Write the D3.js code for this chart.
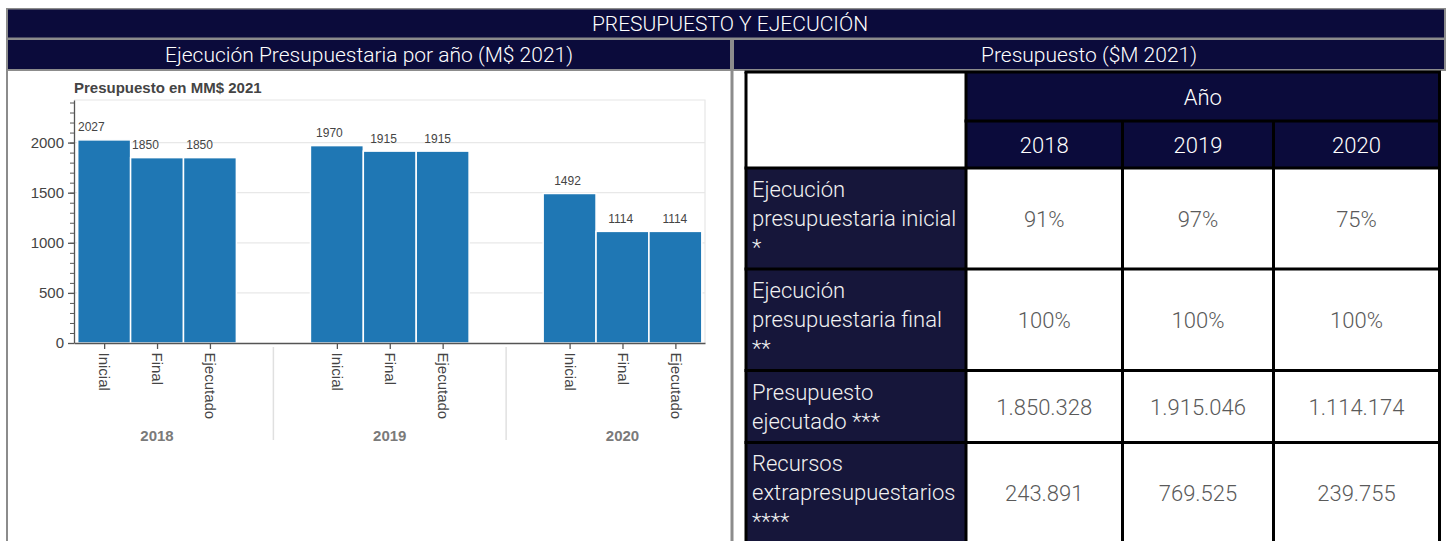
<!DOCTYPE html>
<html>
<head>
<meta charset="utf-8">
<script src="https://cdn.jsdelivr.net/npm/d3@7"></script>
<style>
  html, body { margin: 0; padding: 0; background: #fff; }
  svg { display: block; }
</style>
</head>
<body>
<svg id="board"></svg>
<script>
// chart data (MM$ 2021)
const years = ["2018", "2019", "2020"];
const stages = ["Inicial", "Final", "Ejecutado"];
const inicial = [2027, 1970, 1492];
const final = [1850, 1915, 1114];
const ejecutado = [1850, 1915, 1114];
const yTicks = [0, 500, 1000, 1500, 2000];

// table data
const rowLabels = [
  ["Ejecución", "presupuestaria inicial", "*"],
  ["Ejecución", "presupuestaria final", "**"],
  ["Presupuesto", "ejecutado ***"],
  ["Recursos", "extrapresupuestarios", "****"]
];
const ejecucionInicial = ["91%", "97%", "75%"];
const ejecucionFinal = ["100%", "100%", "100%"];
const presupuestoEjecutado = ["1.850.328", "1.915.046", "1.114.174"];
const recursosExtra = ["243.891", "769.525", "239.755"];

const W = 1446, H = 541;
const navy = "#0b0b3b", navyCell = "#16163a", frame = "#8c8c8c";
const panelFont = "Roboto, 'Noto Sans', sans-serif";
const chartFont = "'Liberation Sans', Arial, sans-serif";

const svg = d3.select("#board").attr("width", W).attr("height", H);

// ---- frame and header bands ----
svg.append("rect").attr("x", 6).attr("y", 8).attr("width", W - 6).attr("height", 31).attr("fill", frame);
svg.append("rect").attr("x", 8).attr("y", 9.5).attr("width", W - 10).attr("height", 28).attr("fill", navy);
svg.append("rect").attr("x", 6).attr("y", 38).attr("width", W - 6).attr("height", 33).attr("fill", frame);
svg.append("rect").attr("x", 8).attr("y", 40).attr("width", 722).attr("height", 29).attr("fill", navy);
svg.append("rect").attr("x", 734).attr("y", 40).attr("width", W - 736).attr("height", 29).attr("fill", navy);
svg.append("rect").attr("x", 6).attr("y", 69).attr("width", 2).attr("height", H - 69).attr("fill", frame);
svg.append("rect").attr("x", 730.5).attr("y", 69).attr("width", 3).attr("height", H - 69).attr("fill", frame);

const headerText = (x, y, t) => svg.append("text")
  .attr("x", x).attr("y", y).attr("text-anchor", "middle").attr("dominant-baseline", "central")
  .attr("fill", "#fff").style("font-family", panelFont).style("font-weight", 300)
  .style("font-size", "21px").text(t);
headerText(730, 23.5, "PRESUPUESTO Y EJECUCIÓN");
headerText(369, 54.5, "Ejecución Presupuestaria por año (M$ 2021)");
headerText(1089, 54.5, "Presupuesto ($M 2021)");

// ---- bar chart ----
const plot = { left: 74, right: 705, top: 100, bottom: 343 };
const groupStep = 4.4; // 3 bars + group padding, in bar units
const series = [inicial, final, ejecutado];
const bars = [];
years.forEach((yr, g) => stages.forEach((st, i) => {
  bars.push({ year: yr, stage: st, g, u: g * groupStep + i, value: series[i][g] });
}));

const x = d3.scaleLinear().domain([-0.07, 11.86]).range([plot.left, plot.right]);
const labelX = d3.scaleLinear().domain([0, 11.8]).range([78, 716.5]);
const y = d3.scaleLinear().domain([0, 2425]).range([plot.bottom, plot.top]);

const chart = svg.append("g");

chart.append("text").attr("x", 74).attr("y", 92.5)
  .style("font-family", chartFont).style("font-weight", "bold").style("font-size", "15px")
  .attr("fill", "#444").text("Presupuesto en MM$ 2021");

// grid + outline
chart.append("g").selectAll("line").data(yTicks.slice(1)).join("line")
  .attr("x1", plot.left).attr("x2", plot.right)
  .attr("y1", d => y(d)).attr("y2", d => y(d))
  .attr("stroke", "#e8e8e8").attr("stroke-width", 1.2);
chart.append("path")
  .attr("d", `M${plot.left},${plot.top}H${plot.right}V${plot.bottom}`)
  .attr("fill", "none").attr("stroke", "#e6e6e6").attr("stroke-width", 1.2);

chart.append("g").selectAll("rect").data(bars).join("rect")
  .attr("x", d => x(d.u)).attr("width", d => x(d.u + 1) - x(d.u))
  .attr("y", d => y(d.value)).attr("height", d => y(0) - y(d.value))
  .attr("fill", "#1f77b4").attr("stroke", "#fff").attr("stroke-width", 1.5);

chart.append("g").selectAll("text").data(bars).join("text")
  .attr("x", d => labelX(d.u)).attr("y", d => y(d.value) - 8.5)
  .style("font-family", chartFont).style("font-size", "12px").attr("fill", "#444")
  .text(d => d.value);

// y axis: minor then major
chart.append("g").attr("transform", `translate(${plot.left},0)`)
  .call(d3.axisLeft(y).tickValues(d3.range(0, 2401, 100)).tickSize(4).tickSizeOuter(0).tickFormat(""))
  .call(g => g.select(".domain").remove())
  .call(g => g.selectAll("line").attr("stroke", "#555"));
chart.append("g").attr("transform", `translate(${plot.left},0)`)
  .call(d3.axisLeft(y).tickValues(yTicks).tickSize(6).tickSizeOuter(0).tickPadding(4)
    .tickFormat(d3.format("d")))
  .call(g => g.select(".domain").attr("stroke", "#555").attr("stroke-width", 1.3))
  .call(g => g.selectAll("line").attr("stroke", "#555").attr("stroke-width", 1.3))
  .call(g => g.selectAll("text").attr("fill", "#444")
    .style("font-family", chartFont).style("font-size", "15px"));

// x axis with rotated stage labels
chart.append("g").attr("transform", `translate(0,${plot.bottom})`)
  .call(d3.axisBottom(x).tickValues(bars.map(d => d.u + 0.5)).tickSize(6).tickSizeOuter(0)
    .tickFormat((d, i) => bars[i].stage))
  .call(g => g.select(".domain").attr("stroke", "#555").attr("stroke-width", 1.5))
  .call(g => g.selectAll("line").attr("stroke", "#555").attr("stroke-width", 1.3))
  .call(g => g.selectAll("text")
    .attr("transform", "rotate(90)").attr("x", 9.5).attr("y", 0).attr("dy", "0.35em")
    .attr("text-anchor", "start").attr("fill", "#444")
    .style("font-family", chartFont).style("font-size", "15px"));

// year group labels and separators
chart.append("g").selectAll("line").data(years.slice(1)).join("line")
  .attr("x1", (d, i) => x(i * groupStep + 3.7)).attr("x2", (d, i) => x(i * groupStep + 3.7))
  .attr("y1", 347).attr("y2", 440).attr("stroke", "#e0e0e0").attr("stroke-width", 1.5);
chart.append("g").selectAll("text").data(years).join("text")
  .attr("x", (d, g) => x(g * groupStep + 1.5)).attr("y", 441)
  .attr("text-anchor", "middle").attr("fill", "#7a7a7a")
  .style("font-family", chartFont).style("font-weight", "bold").style("font-size", "15px")
  .text(d => d);

// ---- table ----
const colEdges = [746, 966, 1122.5, 1273.5, 1439.5];
const rowEdges = [72, 121, 168, 269, 370.5, 442.5, 542];
const values = [ejecucionInicial, ejecucionFinal, presupuestoEjecutado, recursosExtra];
const tbl = svg.append("g");

// header fills
tbl.append("rect").attr("x", colEdges[0]).attr("y", rowEdges[0])
  .attr("width", colEdges[1] - colEdges[0]).attr("height", rowEdges[2] - rowEdges[0]).attr("fill", "#fff");
tbl.append("rect").attr("x", colEdges[1]).attr("y", rowEdges[0])
  .attr("width", colEdges[4] - colEdges[1]).attr("height", rowEdges[2] - rowEdges[0]).attr("fill", navy);
tbl.append("text").attr("x", (colEdges[1] + colEdges[4]) / 2).attr("y", (rowEdges[0] + rowEdges[1]) / 2 + 1)
  .attr("text-anchor", "middle").attr("dominant-baseline", "central").attr("fill", "#fff")
  .style("font-family", panelFont).style("font-weight", 300).style("font-size", "22px").text("Año");
tbl.append("g").selectAll("text").data(years).join("text")
  .attr("x", (d, i) => (colEdges[i + 1] + colEdges[i + 2]) / 2)
  .attr("y", (rowEdges[1] + rowEdges[2]) / 2 + 1)
  .attr("text-anchor", "middle").attr("dominant-baseline", "central").attr("fill", "#fff")
  .style("font-family", panelFont).style("font-weight", 300).style("font-size", "22px").text(d => d);

// body rows
rowLabels.forEach((lines, r) => {
  const top = rowEdges[r + 2], bot = rowEdges[r + 3];
  tbl.append("rect").attr("x", colEdges[0]).attr("y", top)
    .attr("width", colEdges[1] - colEdges[0]).attr("height", bot - top).attr("fill", navyCell);
  const lh = 29, start = top + (bot - top - lines.length * lh) / 2 + 22;
  tbl.append("g").selectAll("text").data(lines).join("text")
    .attr("x", colEdges[0] + 6).attr("y", (d, i) => start + i * lh)
    .attr("fill", "#f2f2f2").style("font-family", panelFont).style("font-weight", 300)
    .style("font-size", "22px").text(d => d);
  tbl.append("g").selectAll("text").data(values[r]).join("text")
    .attr("x", (d, i) => (colEdges[i + 1] + colEdges[i + 2]) / 2)
    .attr("y", (top + bot) / 2 + 1)
    .attr("text-anchor", "middle").attr("dominant-baseline", "central").attr("fill", "#5a5a5a")
    .style("font-family", panelFont).style("font-weight", 300).style("font-size", "22px").text(d => d);
});

// black cell borders
const border = tbl.append("g").attr("stroke", "#000").attr("stroke-width", 3);
rowEdges.slice(0, 6).forEach((yy, i) => {
  const x0 = (i === 1) ? colEdges[1] : colEdges[0];
  border.append("line").attr("x1", x0 - 1.5).attr("x2", colEdges[4] + 1.5).attr("y1", yy).attr("y2", yy);
});
colEdges.forEach((xx, i) => {
  const y0 = (i === 2 || i === 3) ? rowEdges[1] : rowEdges[0];
  border.append("line").attr("x1", xx).attr("x2", xx).attr("y1", y0).attr("y2", H);
});
</script>
</body>
</html>
